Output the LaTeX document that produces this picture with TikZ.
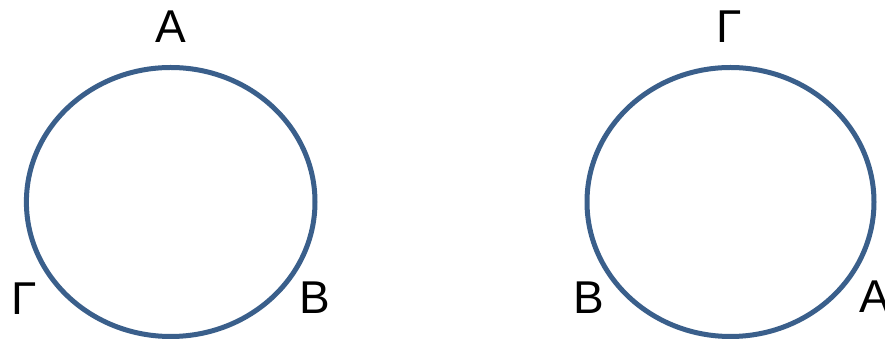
\documentclass[tikz,border=0pt]{standalone}
\usepackage{fontspec}
\setmainfont{Liberation Sans}
\usepackage{xcolor}
\definecolor{RingBlue}{HTML}{3A5F8B}
\definecolor{LetterBlack}{HTML}{000000}
\tikzset{
  ring/.style={RingBlue,line width=2.5pt},
  vertex/.style={anchor=base,inner sep=0pt,text=LetterBlack,
    font=\fontsize{23}{27.6}\selectfont}
}

\begin{document}
\begin{tikzpicture}[x=0.5pt,y=-0.5pt]
        \useasboundingbox (0,0) rectangle (885,341);
        \clip (0,0) rectangle (885,341);

        % first ring
        \draw[ring] (170.7,202) ellipse [x radius=144.3,y radius=134.5];
        \node[vertex] (leftA) at (170.5,43) {Α};
        \node[vertex] (leftB) at (315,314) {Β};
        \node[vertex] (leftG) at (24,315) {Γ};

        % second ring
        \draw[ring] (730.5,202) ellipse [x radius=143.5,y radius=134.5];
        \node[vertex] (rightG) at (729,43) {Γ};
        \node[vertex] (rightB) at (588.5,314) {Β};
        \node[vertex] (rightA) at (874.5,313) {Α};
      \end{tikzpicture}
\end{document}
